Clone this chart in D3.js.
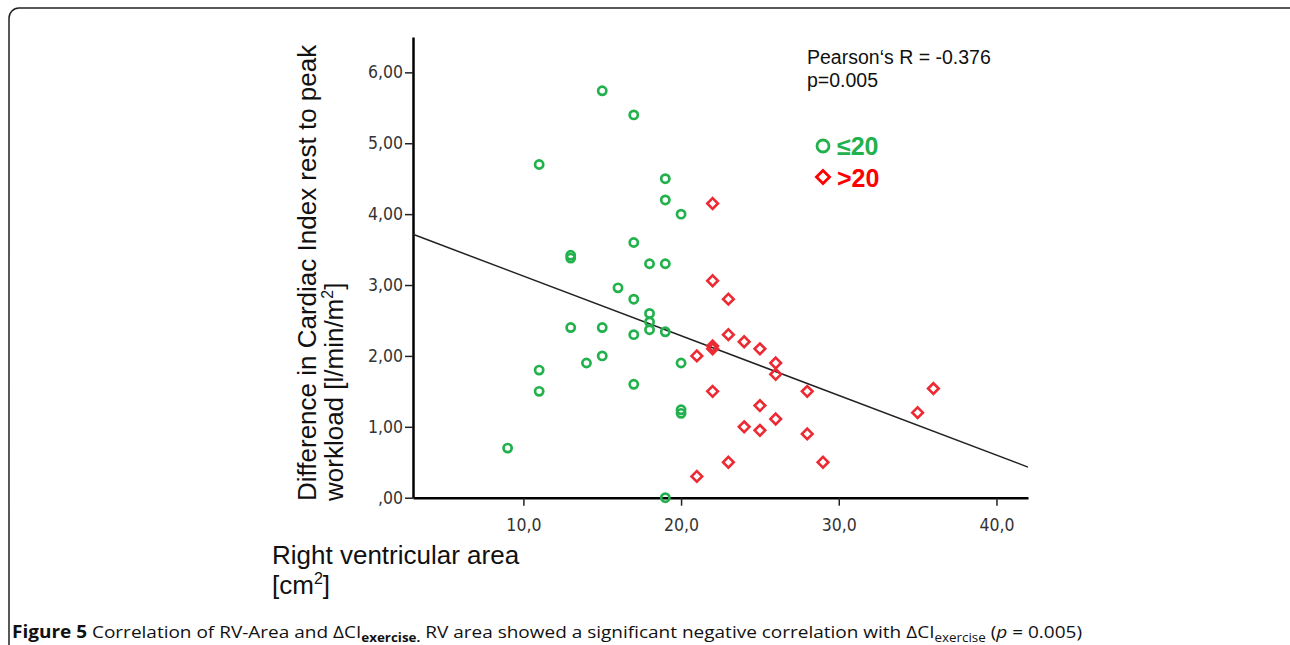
<!DOCTYPE html>
<html>
<head>
<meta charset="utf-8">
<script src="https://cdn.jsdelivr.net/npm/d3@7"></script>
<style>
  body { margin: 0; background: #fff; }
  svg { display: block; }
</style>
</head>
<body>
<div id="chart"></div>
<script>
// group <=20 (green circles): RV area, delta CI
var greenX = [15, 17, 11, 19, 19, 20, 17, 13, 13, 18, 19, 16, 17, 18, 18, 18, 19, 13, 15, 17, 15, 14, 20, 11, 17, 11, 20, 20, 9, 19];
var greenY = [5.74, 5.40, 4.70, 4.50, 4.20, 4.00, 3.60, 3.42, 3.38, 3.30, 3.30, 2.96, 2.80, 2.60, 2.48, 2.37, 2.34, 2.40, 2.40, 2.30, 2.00, 1.90, 1.90, 1.80, 1.60, 1.50, 1.24, 1.19, 0.70, 0.00];

// group >20 (red diamonds)
var redX = [22, 22, 23, 23, 24, 25, 22, 22, 21, 26, 26, 28, 22, 36, 35, 25, 26, 24, 25, 28, 23, 29, 21];
var redY = [4.15, 3.06, 2.80, 2.30, 2.20, 2.10, 2.14, 2.10, 2.00, 1.90, 1.74, 1.50, 1.50, 1.54, 1.20, 1.30, 1.11, 1.00, 0.95, 0.90, 0.50, 0.50, 0.30];

// regression line
var fitIntercept = 3.968;
var fitSlope = -0.0842;

var xTicks = [10, 20, 30, 40];
var yTicks = [0, 1, 2, 3, 4, 5, 6];
var xDomain = [3, 42];
var yDomain = [0, 6.5];

var W = 1290, H = 645;
var green = "#22b14c";
var red = "#ec2a33";
var sans = "Arial, 'Liberation Sans', sans-serif";

var svg = d3.select("#chart").append("svg")
    .attr("width", W)
    .attr("height", H);

// frame round the figure
svg.append("rect")
    .attr("x", 9).attr("y", 8)
    .attr("width", 1290).attr("height", 700)
    .attr("rx", 10)
    .attr("fill", "none")
    .attr("stroke", "#222")
    .attr("stroke-width", 1.5);

var x = d3.scaleLinear().domain(xDomain).range([413, 1028]);
var y = d3.scaleLinear().domain(yDomain).range([497.7, 36.9]);

var fmtY = function (d) { return d === 0 ? ",00" : d3.format(".2f")(d).replace(".", ","); };
var fmtX = function (d) { return d3.format(".1f")(d).replace(".", ","); };

// axes
var xAxis = svg.append("g")
    .attr("transform", "translate(0," + y(0) + ")")
    .call(d3.axisBottom(x).tickValues(xTicks).tickFormat(fmtX).tickSize(8).tickSizeOuter(0));
var yAxis = svg.append("g")
    .attr("transform", "translate(" + x(xDomain[0]) + ",0)")
    .call(d3.axisLeft(y).tickValues(yTicks).tickFormat(fmtY).tickSize(8).tickSizeOuter(0));

[xAxis, yAxis].forEach(function (g) {
    g.select(".domain").attr("stroke", "#000").attr("stroke-width", 2.5);
    g.selectAll(".tick line").attr("stroke", "#222").attr("stroke-width", 1.5);
    g.selectAll(".tick text")
        .attr("fill", "#333")
        .style("font-family", "'DejaVu Sans Condensed', 'DejaVu Sans', sans-serif")
        .style("font-size", "17.5px");
});
xAxis.selectAll(".tick text").attr("dy", "1.3em");
yAxis.selectAll(".tick text").attr("x", -10);

// regression line
svg.append("line")
    .attr("x1", x(xDomain[0])).attr("y1", y(fitIntercept + fitSlope * xDomain[0]))
    .attr("x2", x(xDomain[1])).attr("y2", y(fitIntercept + fitSlope * xDomain[1]))
    .attr("stroke", "#222")
    .attr("stroke-width", 1.5);

// points
var greenData = greenX.map(function (v, i) { return { x: v, y: greenY[i] }; });
var redData = redX.map(function (v, i) { return { x: v, y: redY[i] }; });

svg.selectAll("circle.g")
    .data(greenData)
    .enter()
    .append("circle")
        .attr("class", "g")
        .attr("cx", function (d) { return x(d.x); })
        .attr("cy", function (d) { return y(d.y); })
        .attr("r", 4.1)
        .attr("fill", "none")
        .attr("stroke", green)
        .attr("stroke-width", 2.7);

var diamond = d3.symbol().type(d3.symbolDiamond2).size(72);
svg.selectAll("path.r")
    .data(redData)
    .enter()
    .append("path")
        .attr("class", "r")
        .attr("d", diamond)
        .attr("transform", function (d) { return "translate(" + x(d.x) + "," + y(d.y) + ")"; })
        .attr("fill", "none")
        .attr("stroke", red)
        .attr("stroke-width", 2.6);

// stats text
var stat = svg.append("text")
    .style("font-family", sans)
    .style("font-size", "19.5px")
    .attr("fill", "#111");
stat.append("tspan").attr("x", 807).attr("y", 64).text("Pearson\u2018s R = -0.376");
stat.append("tspan").attr("x", 807).attr("y", 87).text("p=0.005");

// legend
svg.append("circle")
    .attr("cx", 823).attr("cy", 146).attr("r", 6)
    .attr("fill", "none").attr("stroke", green).attr("stroke-width", 2.8);
svg.append("text")
    .attr("x", 837).attr("y", 155)
    .attr("fill", green)
    .style("font-family", sans)
    .style("font-size", "25px").style("font-weight", "bold")
    .text("\u226420");
svg.append("path")
    .attr("d", d3.symbol().type(d3.symbolDiamond2).size(110))
    .attr("transform", "translate(823,177)")
    .attr("fill", "none").attr("stroke", "#ff0000").attr("stroke-width", 2.8);
svg.append("text")
    .attr("x", 837).attr("y", 187)
    .attr("fill", "#ff0000")
    .style("font-family", sans)
    .style("font-size", "25px").style("font-weight", "bold")
    .text(">20");

// y axis title, two lines
var yTitle = svg.append("text")
    .attr("transform", "translate(316,501) rotate(-90)")
    .style("font-family", sans)
    .style("font-size", "26px")
    .attr("fill", "#111");
yTitle.append("tspan").attr("x", 0).attr("y", 0).text("Difference in Cardiac Index rest to peak");
yTitle.append("tspan").attr("x", 0).attr("y", 27).text("workload [l/min/m");
yTitle.append("tspan").attr("dy", -10).style("font-size", "16px").text("2");
yTitle.append("tspan").attr("dy", 10).text("]");

// x axis title
var xTitle = svg.append("text")
    .style("font-family", sans)
    .style("font-size", "26px")
    .attr("fill", "#111");
xTitle.append("tspan").attr("x", 272).attr("y", 564).text("Right ventricular area");
xTitle.append("tspan").attr("x", 272).attr("y", 594).text("[cm");
xTitle.append("tspan").attr("dy", -10).style("font-size", "16px").text("2");
xTitle.append("tspan").attr("dy", 10).text("]");

// caption
var cap = svg.append("text")
    .attr("x", 12).attr("y", 638)
    .style("font-family", "'Open Sans', sans-serif")
    .style("font-size", "17px")
    .attr("fill", "#111");
cap.append("tspan").style("font-weight", "bold").text("Figure 5");
cap.append("tspan").text(" Correlation of RV-Area and \u0394CI");
cap.append("tspan").attr("dy", 4).style("font-size", "12px").style("font-weight", "bold").text("exercise.");
cap.append("tspan").attr("dy", -4).text(" RV area showed a significant negative correlation with \u0394CI");
cap.append("tspan").attr("dy", 4).style("font-size", "12px").text("exercise");
cap.append("tspan").attr("dy", -4).text(" (");
cap.append("tspan").style("font-style", "italic").text("p");
cap.append("tspan").text(" = 0.005)");
cap.attr("textLength", 1070).attr("lengthAdjust", "spacingAndGlyphs");
</script>
</body>
</html>
